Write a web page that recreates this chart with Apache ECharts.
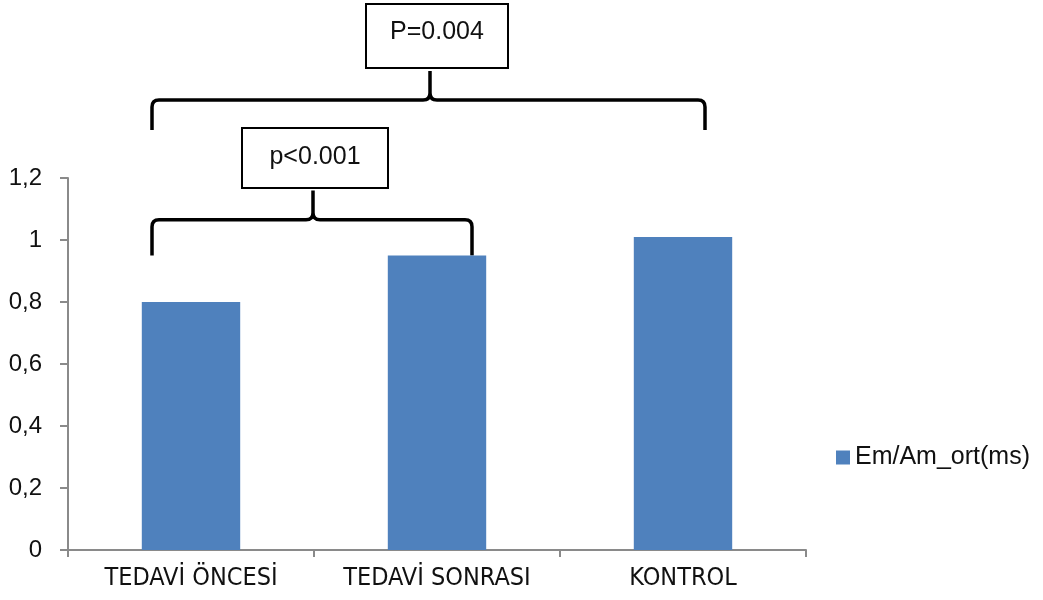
<!DOCTYPE html>
<html>
<head>
<meta charset="utf-8">
<script src="https://cdn.jsdelivr.net/npm/echarts@6/dist/echarts.min.js"></script>
<style>
  html, body { margin: 0; padding: 0; background: #fff; }
  #chart { width: 1043px; height: 600px; }
</style>
</head>
<body>
<div id="chart"></div>
<script>
// data
const categories = ['TEDAVİ ÖNCESİ', 'TEDAVİ SONRASI', 'KONTROL'];
const seriesName = 'Em/Am_ort(ms)';
const values = [0.80, 0.95, 1.01];
const pLabels = ['p<0.001', 'P=0.004'];

const font = "'Liberation Sans', Arial, sans-serif";
const narrowFont = "'Liberation Sans Narrow', 'DejaVu Sans Condensed', sans-serif";
const textColor = '#111';

// curly brace shape for the significance brackets
echarts.graphic.registerShape('brace', echarts.graphic.extendShape({
    shape: { x1: 0, x2: 0, xc: 0, yBot: 0, yMid: 0, yTop: 0, r: 7 },
    buildPath: function (ctx, s) {
        ctx.moveTo(s.x1, s.yBot);
        ctx.lineTo(s.x1, s.yMid + s.r);
        ctx.quadraticCurveTo(s.x1, s.yMid, s.x1 + s.r, s.yMid);
        ctx.lineTo(s.xc - s.r, s.yMid);
        ctx.quadraticCurveTo(s.xc, s.yMid, s.xc, s.yMid - s.r);
        ctx.lineTo(s.xc, s.yTop);
        ctx.moveTo(s.xc, s.yMid - s.r);
        ctx.quadraticCurveTo(s.xc, s.yMid, s.xc + s.r, s.yMid);
        ctx.lineTo(s.x2 - s.r, s.yMid);
        ctx.quadraticCurveTo(s.x2, s.yMid, s.x2, s.yMid + s.r);
        ctx.lineTo(s.x2, s.yBot);
    }
}));

const chart = echarts.init(document.getElementById('chart'));

chart.setOption({
    animation: false,
    grid: { left: 68, right: 237, top: 178, bottom: 50 },
    legend: {
        data: [seriesName],
        left: 831,
        top: 440,
        icon: 'rect',
        itemWidth: 14,
        itemHeight: 14,
        itemGap: 5,
        textStyle: { color: textColor, fontSize: 25, fontFamily: font }
    },
    xAxis: {
        type: 'category',
        data: categories,
        axisLine: { lineStyle: { color: '#8a8a8a', width: 2 } },
        axisTick: { show: true, length: 7, lineStyle: { color: '#8a8a8a', width: 2 } },
        axisLabel: { color: textColor, fontSize: 25, fontFamily: narrowFont, margin: 16 }
    },
    yAxis: {
        type: 'value',
        min: 0,
        max: 1.2,
        interval: 0.2,
        splitLine: { show: false },
        axisLine: { show: true, lineStyle: { color: '#8a8a8a', width: 2 } },
        axisTick: { show: true, length: 8, lineStyle: { color: '#8a8a8a', width: 2 } },
        axisLabel: {
            color: textColor, fontSize: 24, fontFamily: font, margin: 26,
            formatter: v => String(+v.toFixed(1)).replace('.', ',')
        }
    },
    series: [{
        name: seriesName,
        type: 'bar',
        data: values,
        barWidth: '40%',
        itemStyle: { color: '#4f81bd' }
    }]
});

// brackets placed from the axes' own scales
const cx = i => chart.convertToPixel({ xAxisIndex: 0 }, i);
const y0 = chart.convertToPixel({ yAxisIndex: 0 }, 0);
const y12 = chart.convertToPixel({ yAxisIndex: 0 }, 1.2);
const vy = v => y0 + (y12 - y0) * v / 1.2;

function box(x, y, w, h, label, dy) {
    return {
        type: 'group',
        children: [
            { type: 'rect', shape: { x: x, y: y, width: w, height: h },
              style: { fill: '#fff', stroke: '#000', lineWidth: 2 } },
            { type: 'text', x: x + w / 2, y: y + h / 2 + dy,
              style: { text: label, fill: textColor, fontSize: 25, fontFamily: font,
                       align: 'center', verticalAlign: 'middle' } }
        ]
    };
}

const c0 = cx(0), c1 = cx(1), c2 = cx(2);

chart.setOption({
    graphic: [
        { type: 'brace',
          shape: { x1: c0 - 39, x2: c1 + 35, xc: 313, yBot: vy(0.95), yMid: vy(1.065), yTop: vy(1.16), r: 7 },
          style: { fill: null, stroke: '#000', lineWidth: 3.5 } },
        { type: 'brace',
          shape: { x1: c0 - 39, x2: c2 + 22, xc: 430, yBot: vy(1.355), yMid: vy(1.452), yTop: vy(1.545), r: 7 },
          style: { fill: null, stroke: '#000', lineWidth: 3.5 } },
        box(242, 128, 146, 60, pLabels[0], -1),
        box(366, 4, 142, 64, pLabels[1], -4)
    ]
});
</script>
</body>
</html>
